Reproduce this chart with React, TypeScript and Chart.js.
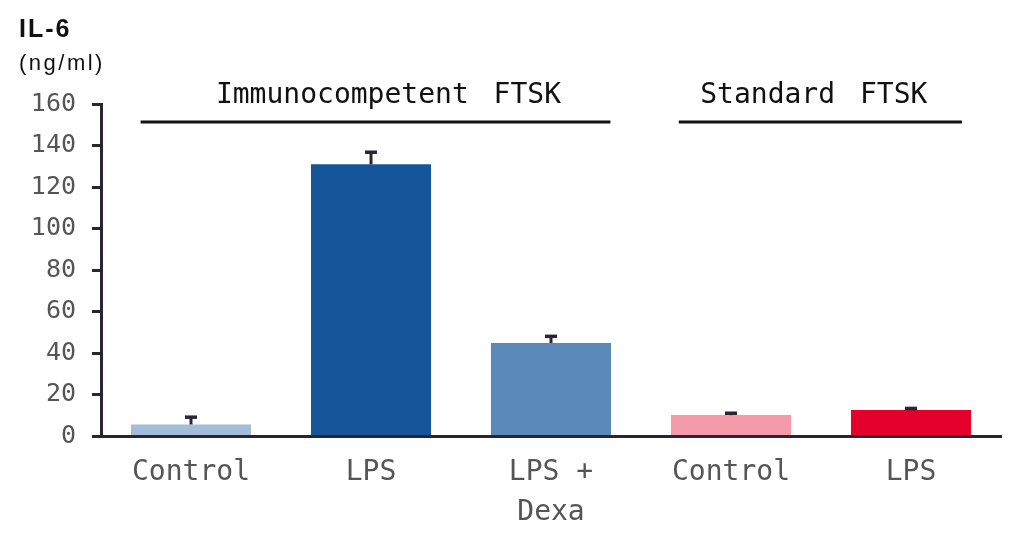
import React, { useEffect, useRef } from 'react';
import { Chart, registerables } from 'chart.js';

Chart.register(...registerables);

// ---- data ----
const categories: (string | string[])[] = ['Control', 'LPS', ['LPS +', 'Dexa'], 'Control', 'LPS'];
const il6Values: number[] = [5.8, 131, 45, 10.3, 12.7];
const il6Errors: number[] = [3.5, 5.8, 3.2, 0.9, 0.8];
const barColors: string[] = ['#a2bdda', '#15569a', '#5b8aba', '#f49aa9', '#e4002b'];
const yMin = 0;
const yMax = 160;
const yStep = 20;
const titleText = 'IL-6';
const unitText = '(ng/ml)';
const groupLabels: string[] = ['Immunocompetent FTSK', 'Standard FTSK'];
// group spans in category units (start, end, label centre)
const groupFrom: number[] = [-0.28, 2.71];
const groupTo: number[] = [2.33, 4.283];
const groupLabelAt: number[] = [1.097, 3.46];

const AXIS_COLOR = '#2a2530';
const MONO = '"DejaVu Sans Mono", monospace';

const overlayPlugin = {
  id: 'overlay',
  afterDatasetsDraw(chart: any) {
    const ctx: CanvasRenderingContext2D = chart.ctx;
    const ys = chart.scales.y;
    const meta = chart.getDatasetMeta(0);
    ctx.save();
    // error bars (upper only)
    ctx.strokeStyle = AXIS_COLOR;
    meta.data.forEach((bar: any, i: number) => {
      const x = bar.x;
      const yTop = bar.y;
      const yErr = ys.getPixelForValue(il6Values[i] + il6Errors[i]);
      ctx.lineWidth = 3;
      ctx.beginPath();
      ctx.moveTo(x, yTop);
      ctx.lineTo(x, yErr);
      ctx.stroke();
      ctx.lineWidth = 3.5;
      ctx.beginPath();
      ctx.moveTo(x - 6, yErr);
      ctx.lineTo(x + 6, yErr);
      ctx.stroke();
    });
    ctx.restore();
  },
  afterDraw(chart: any) {
    const ctx: any = chart.ctx;
    const xs = chart.scales.x;
    const step = xs.getPixelForValue(1) - xs.getPixelForValue(0);
    const p = (v: number) => xs.getPixelForValue(0) + v * step;
    ctx.save();
    // title
    ctx.fillStyle = '#111111';
    ctx.textAlign = 'left';
    ctx.textBaseline = 'alphabetic';
    ctx.letterSpacing = '2px';
    ctx.font = 'bold 25px "Liberation Sans", Arial, sans-serif';
    ctx.fillText(titleText, 19, 37);
    ctx.font = '22px "Liberation Sans", Arial, sans-serif';
    ctx.letterSpacing = '2.5px';
    ctx.fillText(unitText, 19, 70);
    ctx.letterSpacing = '0px';
    // group labels and lines
    ctx.font = '28px ' + MONO;
    ctx.textAlign = 'center';
    ctx.wordSpacing = '8px';
    groupLabels.forEach((lbl, i) => {
      ctx.fillStyle = '#111111';
      ctx.fillText(lbl, p(groupLabelAt[i]), 103);
      ctx.strokeStyle = '#111111';
      ctx.lineWidth = 3;
      ctx.beginPath();
      ctx.moveTo(p(groupFrom[i]), 122);
      ctx.lineTo(p(groupTo[i]), 122);
      ctx.stroke();
    });
    ctx.wordSpacing = '0px';
    ctx.restore();
  },
};

export default function App() {
  const ref = useRef<HTMLCanvasElement>(null);
  useEffect(() => {
    if (!ref.current) return;
    const chart = new Chart(ref.current, {
      type: 'bar',
      data: {
        labels: categories as any,
        datasets: [
          {
            data: il6Values,
            backgroundColor: barColors,
            borderWidth: 0,
            barPercentage: 0.667,
            categoryPercentage: 1,
          },
        ],
      },
      options: {
        animation: false,
        responsive: false,
        devicePixelRatio: 1,
        layout: { padding: { top: 104, right: 29, left: 0, bottom: 0 } },
        plugins: {
          legend: { display: false },
          title: { display: false },
          tooltip: { enabled: false },
        },
        scales: {
          x: {
            grid: { display: false, drawTicks: false },
            border: { display: true, color: AXIS_COLOR, width: 3 },
            ticks: {
              color: '#555555',
              font: { family: MONO, size: 28, lineHeight: 1.4 },
              padding: 17,
              maxRotation: 0,
              autoSkip: false,
            },
            afterFit: (s: any) => {
              s.height = 112.5;
            },
          },
          y: {
            min: yMin,
            max: yMax,
            grid: {
              display: true,
              drawOnChartArea: false,
              drawTicks: true,
              tickLength: 9,
              color: AXIS_COLOR,
              lineWidth: 3,
            },
            border: { display: true, color: AXIS_COLOR, width: 3 },
            ticks: {
              stepSize: yStep,
              color: '#555555',
              font: { family: MONO, size: 25 },
              padding: 16,
            },
            afterFit: (s: any) => {
              s.width = 101;
            },
          },
        },
      },
      plugins: [overlayPlugin],
    });
    return () => chart.destroy();
  }, []);
  return (
    <div style={{ position: 'absolute', left: 0, top: 0, width: 1030, height: 549, background: '#ffffff' }}>
      <canvas ref={ref} width={1030} height={549} style={{ width: 1030, height: 549, display: 'block' }} />
    </div>
  );
}
